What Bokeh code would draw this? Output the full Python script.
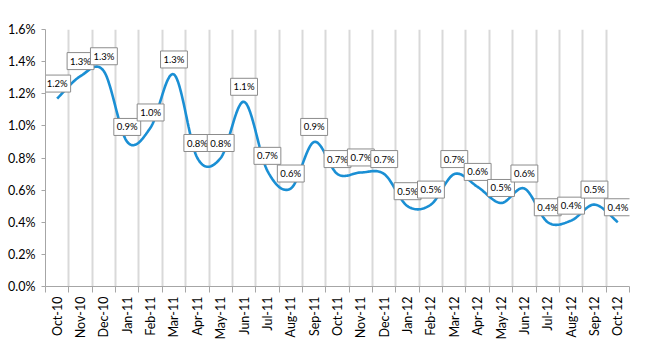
import numpy as np
from bokeh.plotting import figure
from bokeh.models import FixedTicker, PrintfTickFormatter, Range1d, ColumnDataSource
from bokeh.core.properties import value
from bokeh.embed import file_html
from bokeh.resources import INLINE
import math

months = ["Oct-10", "Nov-10", "Dec-10", "Jan-11", "Feb-11", "Mar-11", "Apr-11", "May-11",
          "Jun-11", "Jul-11", "Aug-11", "Sep-11", "Oct-11", "Nov-11", "Dec-11", "Jan-12",
          "Feb-12", "Mar-12", "Apr-12", "May-12", "Jun-12", "Jul-12", "Aug-12", "Sep-12", "Oct-12"]
values = [1.17, 1.31, 1.34, 0.90, 0.99, 1.32, 0.80, 0.80, 1.15, 0.72, 0.61, 0.90, 0.70,
          0.71, 0.70, 0.50, 0.51, 0.70, 0.62, 0.52, 0.61, 0.40, 0.41, 0.51, 0.40]
labels = ["1.2%", "1.3%", "1.3%", "0.9%", "1.0%", "1.3%", "0.8%", "0.8%", "1.1%", "0.7%",
          "0.6%", "0.9%", "0.7%", "0.7%", "0.7%", "0.5%", "0.5%", "0.7%", "0.6%", "0.5%",
          "0.6%", "0.4%", "0.4%", "0.5%", "0.4%"]
y_ticks = [0.0, 0.2, 0.4, 0.6, 0.8, 1.0, 1.2, 1.4, 1.6]

n = len(months)
xs = np.arange(n, dtype=float)
ys = np.array(values)

# Catmull-Rom smoothing (like Excel's smoothed line)
sx, sy = [], []
steps = 24
for i in range(n - 1):
    p0 = ys[i - 1] if i > 0 else ys[i]
    p1 = ys[i]
    p2 = ys[i + 1]
    p3 = ys[i + 2] if i + 2 < n else ys[i + 1]
    x0 = xs[i - 1] if i > 0 else xs[i]
    x3 = xs[i + 2] if i + 2 < n else xs[i + 1]
    for t in np.linspace(0, 1, steps, endpoint=(i == n - 2)):
        t2, t3 = t * t, t * t * t
        def cr(a, b, c, d):
            return 0.5 * ((2 * b) + (-a + c) * t + (2 * a - 5 * b + 4 * c - d) * t2 + (-a + 3 * b - 3 * c + d) * t3)
        sx.append(cr(x0, xs[i], xs[i + 1], x3))
        sy.append(cr(p0, p1, p2, p3))

p = figure(width=650, height=350, output_backend="svg", toolbar_location=None,
           x_range=Range1d(-0.5, n - 0.5), y_range=Range1d(0, 1.6),
           min_border_left=45, min_border_right=21, min_border_top=29, min_border_bottom=64)
p.outline_line_color = None
p.background_fill_color = "white"

boundaries = [i - 0.5 for i in range(n + 1)]
p.xaxis.ticker = FixedTicker(ticks=list(range(n)), minor_ticks=boundaries)
p.xaxis.major_label_overrides = {i: m for i, m in enumerate(months)}
p.xaxis.major_label_orientation = math.pi / 2
p.xaxis.major_tick_line_color = None
p.xaxis.minor_tick_in = 0
p.xaxis.minor_tick_out = 6
p.xaxis.minor_tick_line_color = "#a6a6a6"
p.xaxis.axis_line_color = "#a6a6a6"
p.xaxis.major_label_text_font = "Lato"
p.xaxis.major_label_text_font_size = "12.5px"
p.xaxis.major_label_text_color = "black"
p.xaxis.major_label_standoff = 4

p.xgrid.grid_line_color = None
p.xgrid.minor_grid_line_color = "#d9d9d9"
p.xgrid.minor_grid_line_width = 2
p.ygrid.grid_line_color = None

p.yaxis.ticker = FixedTicker(ticks=y_ticks)
p.yaxis.formatter = PrintfTickFormatter(format="%.1f%%")
p.yaxis.major_tick_in = 0
p.yaxis.major_tick_out = 4
p.yaxis.minor_tick_line_color = None
p.yaxis.major_tick_line_color = "#a6a6a6"
p.yaxis.axis_line_color = "#a6a6a6"
p.yaxis.major_label_text_font = "Lato"
p.yaxis.major_label_text_font_size = "12.5px"
p.yaxis.major_label_text_color = "black"
p.yaxis.major_label_standoff = 6

p.line(sx, sy, line_color="#1a8fd4", line_width=2.6)

src = ColumnDataSource(dict(x=xs, y=ys, t=labels))
p.text(x="x", y="y", text="t", source=src, text_align="center", text_baseline="middle",
       y_offset=-15, text_font=value("Lato"), text_font_size="9.5px", text_color="black",
       background_fill_color="white", border_line_color="#8c8c8c", border_line_width=1,
       padding=3)

open("out.html", "w").write(file_html(p, INLINE))
